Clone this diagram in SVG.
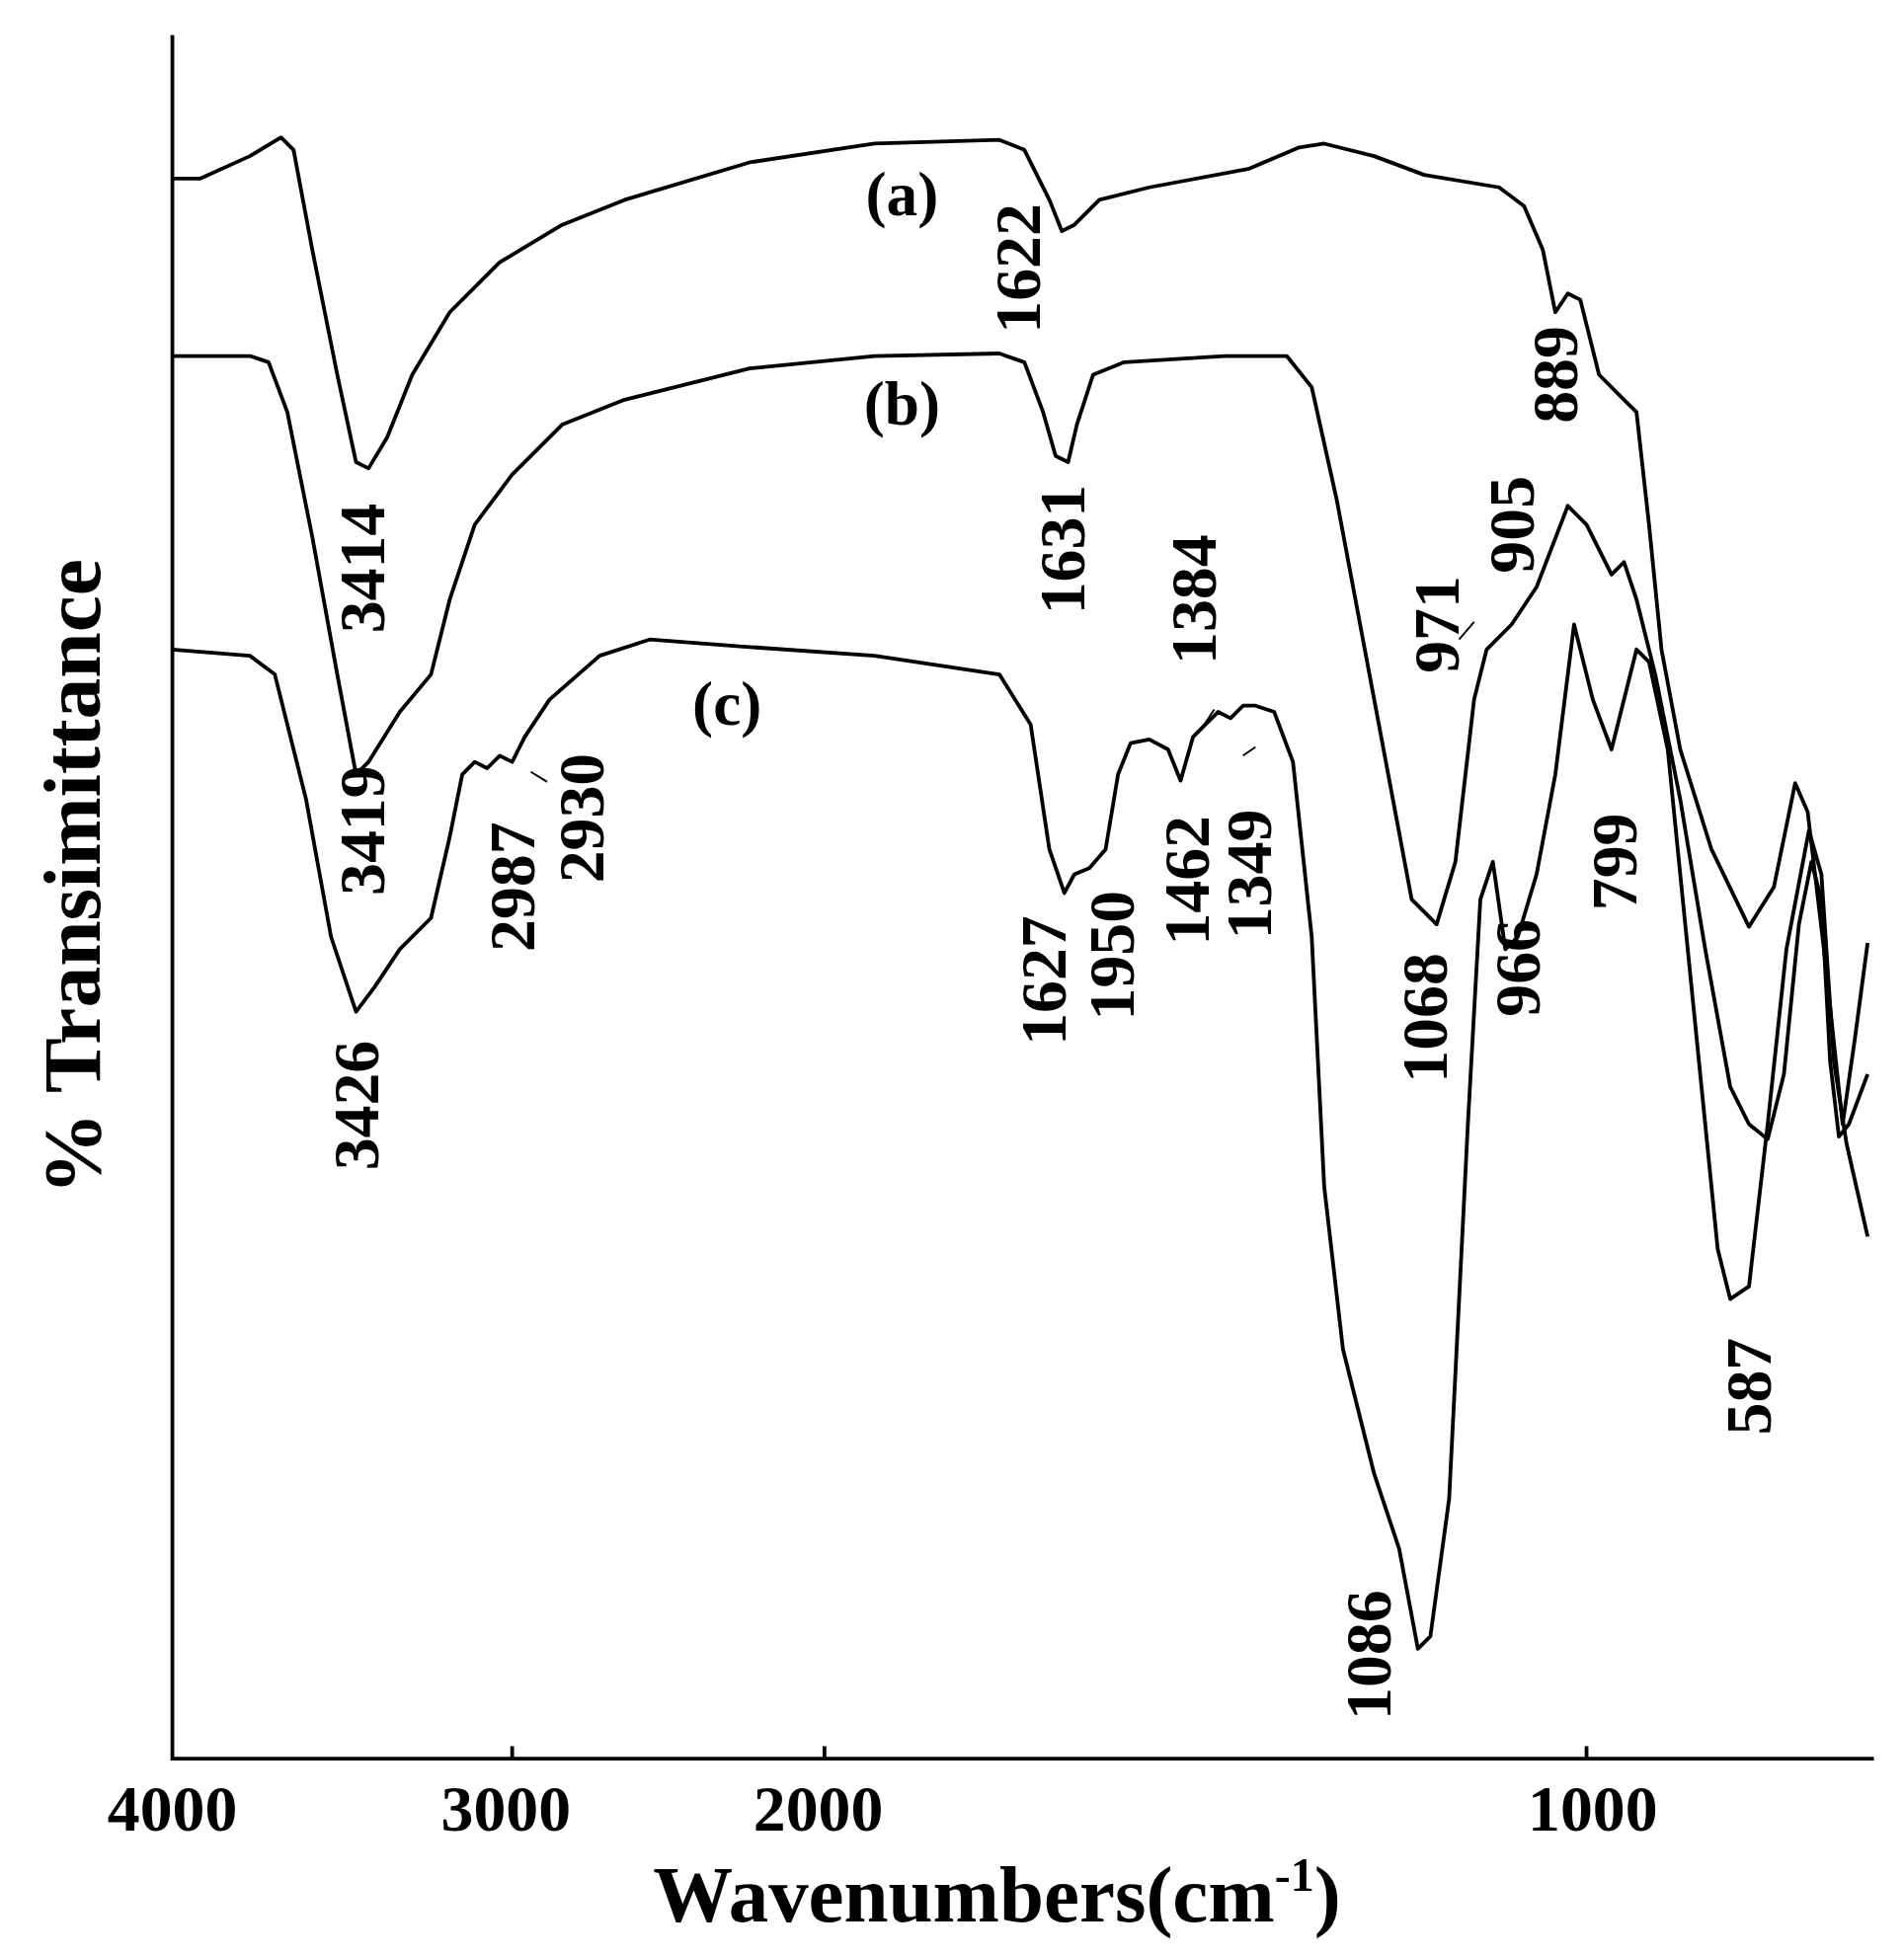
<svg xmlns="http://www.w3.org/2000/svg" width="1928" height="1982" viewBox="0 0 1928 1982">
<style>
.c{fill:none;stroke:#000;stroke-width:3;stroke-linejoin:round}
.l{font-family:"Liberation Serif",serif;font-weight:bold;font-size:52px;text-anchor:middle;dominant-baseline:central}
.t{font-family:"Liberation Serif",serif;font-weight:bold;font-size:52px;text-anchor:middle}
.k{font-family:"Liberation Serif",serif;font-weight:bold;font-size:50px;text-anchor:middle}
</style>
<rect width="1928" height="1982" fill="#fff"/>
<g transform="scale(1.265)">
<g id="axes" fill="none" stroke="#000" stroke-width="3">
<path d="M138,28 V1408 H1500"/>
<path d="M410,1408 v-10 M660,1408 v-10 M1270,1408 v-10"/>
</g>
<g id="ticklabels">
<text class="t" x="138" y="1466">4000</text>
<text class="t" x="405" y="1466">3000</text>
<text class="t" x="655" y="1466">2000</text>
<text class="t" x="1275" y="1466">1000</text>
<text class="t" x="798" y="1538" style="font-size:64px">Wavenumbers(cm<tspan dy="-24" font-size="38">-1</tspan><tspan dy="24">)</tspan></text>
<text class="t" transform="rotate(-90 58 702)" x="58" y="702" style="font-size:66px;dominant-baseline:central">% Transimittance</text>
</g>
<g id="curves">
<polyline class="c" points="138,143 160,143 200,125 225,110 235,120 250,200 270,300 285,370 295,375 310,350 330,300 360,250 400,210 450,180 500,160 600,130 700,115 800,112 820,120 840,160 850,185 860,180 880,160 920,150 1000,135 1040,118 1060,115 1100,125 1140,140 1200,150 1220,165 1235,200 1245,250 1255,235 1265,240 1280,300 1300,320 1310,330 1320,420 1330,520 1345,600 1370,680 1400,742 1420,710 1437,627 1447,650 1460,760 1475,900 1485,830 1495,755"/>
<polyline class="c" points="138,285 200,285 215,290 230,330 250,430 270,540 285,620 295,610 320,570 345,540 360,480 380,420 410,380 450,340 500,320 600,295 700,285 800,283 820,290 835,330 845,365 855,370 862,340 875,300 900,290 980,285 1030,285 1050,310 1070,400 1100,560 1130,720 1150,740 1165,690 1180,560 1190,520 1210,500 1230,470 1255,405 1270,420 1290,460 1300,450 1310,480 1325,540 1345,640 1365,760 1385,870 1400,900 1415,912 1428,860 1440,740 1450,690 1458,720 1465,850 1472,910 1480,900 1495,860"/>
<polyline class="c" points="138,520 200,525 220,540 245,640 265,750 285,810 300,790 320,760 345,735 360,670 370,620 380,610 390,615 400,605 410,610 420,590 440,560 480,525 520,512 600,518 700,525 800,540 825,580 840,680 852,715 860,700 872,695 885,680 895,620 905,595 920,592 935,600 945,625 955,590 965,580 975,570 985,575 995,565 1005,565 1020,570 1035,610 1050,750 1060,950 1075,1080 1100,1180 1120,1240 1135,1320 1145,1310 1160,1200 1175,900 1185,720 1195,690 1205,760 1215,750 1230,700 1245,620 1260,500 1275,560 1290,600 1310,520 1320,530 1335,600 1350,750 1365,900 1375,1000 1385,1040 1400,1030 1415,900 1430,760 1448,665 1458,700 1468,850 1478,915 1495,990"/>
<path fill="none" stroke="#000" stroke-width="1.5" d="M425,618 L438,626 M962,583 L972,568 M995,605 L1005,598 M1168,512 L1180,498"/>
</g>
<g id="labels">
<text class="k" x="722" y="172">(a)</text>
<text class="k" x="722" y="340">(b)</text>
<text class="k" x="582" y="580">(c)</text>
<text class="l" transform="rotate(-90 815 215)" x="815" y="215">1622</text>
<text class="l" transform="rotate(-90 290 455)" x="290" y="455">3414</text>
<text class="l" transform="rotate(-90 850 440)" x="850" y="440">1631</text>
<text class="l" transform="rotate(-90 1245 300)" x="1245" y="300">889</text>
<text class="l" transform="rotate(-90 1210 420)" x="1210" y="420">905</text>
<text class="l" transform="rotate(-90 955 480)" x="955" y="480">1384</text>
<text class="l" transform="rotate(-90 1150 500)" x="1150" y="500">971</text>
<text class="l" transform="rotate(-90 290 665)" x="290" y="665">3419</text>
<text class="l" transform="rotate(-90 410 710)" x="410" y="710">2987</text>
<text class="l" transform="rotate(-90 465 655)" x="465" y="655">2930</text>
<text class="l" transform="rotate(-90 950 705)" x="950" y="705">1462</text>
<text class="l" transform="rotate(-90 1000 700)" x="1000" y="700">1349</text>
<text class="l" transform="rotate(-90 835 785)" x="835" y="785">1627</text>
<text class="l" transform="rotate(-90 890 765)" x="890" y="765">1950</text>
<text class="l" transform="rotate(-90 1140 815)" x="1140" y="815">1068</text>
<text class="l" transform="rotate(-90 1215 775)" x="1215" y="775">966</text>
<text class="l" transform="rotate(-90 1292 690)" x="1292" y="690">799</text>
<text class="l" transform="rotate(-90 285 885)" x="285" y="885">3426</text>
<text class="l" transform="rotate(-90 1400 1110)" x="1400" y="1110">587</text>
<text class="l" transform="rotate(-90 1095 1325)" x="1095" y="1325">1086</text>
</g>
</g>
</svg>
